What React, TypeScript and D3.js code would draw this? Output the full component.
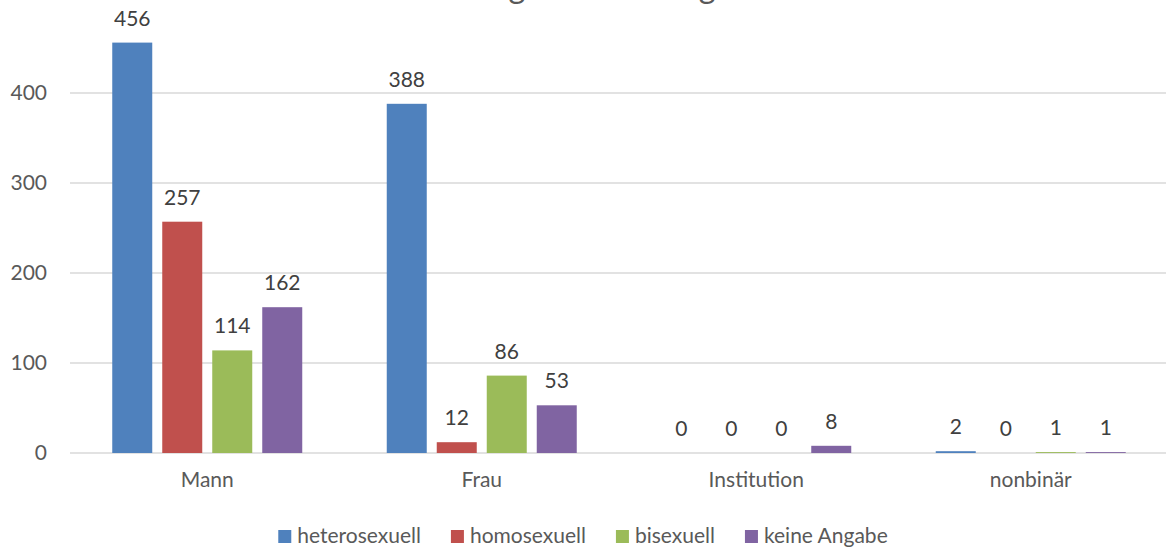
import React, { useEffect, useRef } from "react";
import * as d3 from "d3";

const categories = ["Mann", "Frau", "Institution", "nonbinär"];
const seriesNames = ["heterosexuell", "homosexuell", "bisexuell", "keine Angabe"];
const heterosexuell = [456, 388, 0, 2];
const homosexuell = [257, 12, 0, 0];
const bisexuell = [114, 86, 0, 1];
const keineAngabe = [162, 53, 8, 1];
const seriesValues = [heterosexuell, homosexuell, bisexuell, keineAngabe];
const seriesColors = ["#4f81bd", "#c0504d", "#9bbb59", "#8064a2"];
const yTicks = [0, 100, 200, 300, 400];
const titleText = "Auswertung Orientierung";

const W = 1167;
const H = 549;
const FONT = "Lato, 'Open Sans', sans-serif";

export default function App() {
  const legendRef = useRef<SVGGElement>(null);

  const x0 = d3.scaleBand<string>().domain(categories).range([70, 1168]).padding(0);
  const x1 = d3
    .scaleBand<string>()
    .domain(seriesNames)
    .range([-95, 95])
    .paddingInner(0.2)
    .paddingOuter(0);
  const y = d3.scaleLinear().domain([0, 500]).range([453, 3]);

  useEffect(() => {
    const g = d3.select(legendRef.current);
    g.selectAll("*").remove();
    const items = g
      .selectAll("g.item")
      .data(seriesNames)
      .enter()
      .append("g")
      .attr("class", "item");
    items
      .append("rect")
      .attr("width", 13)
      .attr("height", 13)
      .attr("y", -13)
      .attr("fill", (_, i) => seriesColors[i]);
    const texts = items
      .append("text")
      .attr("x", 19)
      .attr("y", 0)
      .attr("font-family", FONT)
      .attr("font-size", 21)
      .attr("fill", "#595959")
      .text((d) => d);
    const widths: number[] = [];
    texts.each(function () {
      widths.push((this as SVGTextElement).getComputedTextLength());
    });
    const gap = 30;
    const itemW = widths.map((w) => 19 + w);
    const total = d3.sum(itemW) + gap * (itemW.length - 1);
    let cx = 583 - total / 2;
    items.each(function (_, i) {
      d3.select(this).attr("transform", `translate(${cx},543)`);
      cx += itemW[i] + gap;
    });
  }, []);

  return (
    <svg width={W} height={H} style={{ display: "block", position: "absolute", left: 0, top: 0 }}>
      <rect width={W} height={H} fill="#ffffff" />
      <text x={353} y={-2} fontFamily={FONT} fontSize={32.4} fill="#595959">
        {titleText}
      </text>
      {yTicks.map((t) => (
        <g key={t}>
          <line x1={70} x2={1166} y1={y(t)} y2={y(t)} stroke="#d9d9d9" strokeWidth={1.3} />
          <text
            x={47}
            y={y(t) + 7}
            textAnchor="end"
            fontFamily={FONT}
            fontSize={21}
            fill="#595959"
          >
            {t}
          </text>
        </g>
      ))}
      {categories.map((c, ci) => {
        const cx = (x0(c) as number) + x0.bandwidth() / 2;
        return (
          <g key={c}>
            {seriesNames.map((s, si) => {
              const v = seriesValues[si][ci];
              const bx = cx + (x1(s) as number);
              const top = y(v);
              return (
                <g key={s}>
                  {v > 0 && (
                    <rect x={bx} y={top} width={x1.bandwidth()} height={y(0) - top} fill={seriesColors[si]} />
                  )}
                  <text
                    x={bx + x1.bandwidth() / 2}
                    y={top - 17}
                    textAnchor="middle"
                    fontFamily={FONT}
                    fontSize={21}
                    fill="#404040"
                  >
                    {v}
                  </text>
                </g>
              );
            })}
            <text x={cx} y={487} textAnchor="middle" fontFamily={FONT} fontSize={21} fill="#595959">
              {c}
            </text>
          </g>
        );
      })}
      <g ref={legendRef} />
    </svg>
  );
}
